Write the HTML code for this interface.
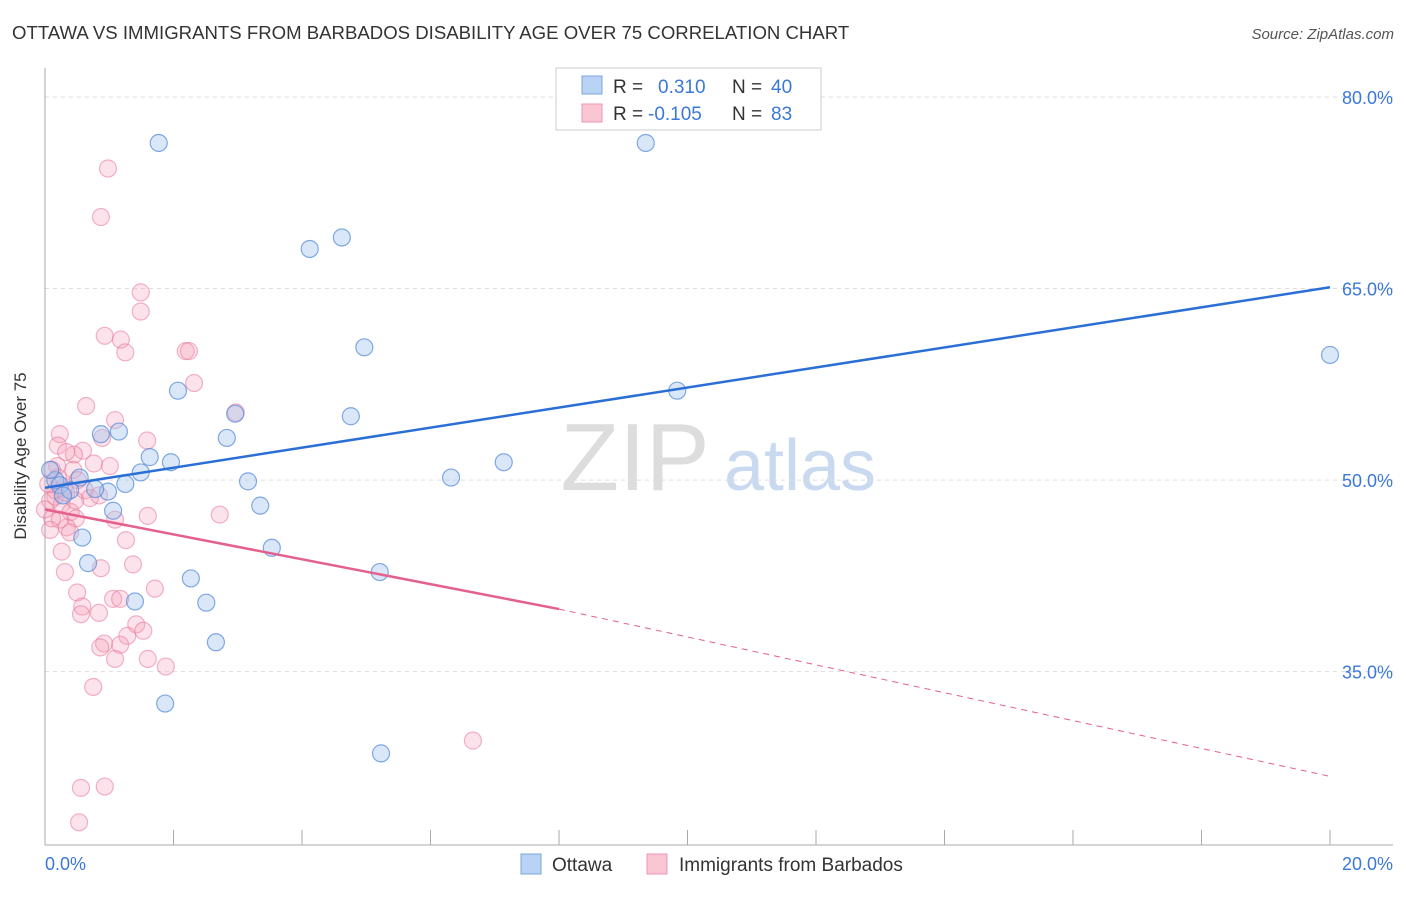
<!DOCTYPE html>
<html><head><meta charset="utf-8"><style>
body{margin:0;background:#fff;font-family:"Liberation Sans",sans-serif}
svg text{font-family:"Liberation Sans",sans-serif}
</style></head><body>
<svg id="chart" width="1406" height="892">
<text x="12" y="39" font-size="18.6" fill="#333">OTTAWA VS IMMIGRANTS FROM BARBADOS DISABILITY AGE OVER 75 CORRELATION CHART</text>
<text x="1394" y="39" font-size="15" fill="#555" text-anchor="end" font-style="italic">Source: ZipAtlas.com</text>
<text x="635" y="490" font-size="96" fill="#ddd" font-family="Liberation Serif" text-anchor="middle">ZIP</text>
<text x="800" y="490" font-size="72" fill="#c9daf0" text-anchor="middle">atlas</text>
<g id="grid"></g><g id="axes"></g><g id="pts"></g><g id="lines"></g>
<text x="26" y="456" font-size="17" fill="#333" text-anchor="middle" transform="rotate(-90 26 456)">Disability Age Over 75</text>
<g>
<rect x="556" y="68" width="265" height="62" fill="#fff" stroke="#ccc"/>
<rect x="582" y="76" width="20" height="18" fill="#b9d3f5" stroke="#7aa6e0"/>
<rect x="582" y="104" width="20" height="18" fill="#fbc6d4" stroke="#eb97b0"/>
<text x="613" y="93" font-size="19" fill="#333">R =</text><text x="658" y="93" font-size="19" fill="#3b78d8">0.310</text>
<text x="732" y="93" font-size="19" fill="#333">N =</text><text x="771" y="93" font-size="19" fill="#3b78d8">40</text>
<text x="613" y="120" font-size="19" fill="#333">R =</text><text x="648" y="120" font-size="19" fill="#3b78d8">-0.105</text>
<text x="732" y="120" font-size="19" fill="#333">N =</text><text x="771" y="120" font-size="19" fill="#3b78d8">83</text>
</g>
<g>
<rect x="521" y="854" width="20" height="20" fill="#b9d3f5" stroke="#7aa6e0"/>
<text x="552" y="871" font-size="19" fill="#333">Ottawa</text>
<rect x="647" y="854" width="20" height="20" fill="#fbc6d4" stroke="#eb97b0"/>
<text x="679" y="871" font-size="19" fill="#333">Immigrants from Barbados</text>
</g>
</svg>
<script>
const yTicks=[80,65,50,35];
const yTickLabels=["80.0%","65.0%","50.0%","35.0%"];
const ottawaX=[1.77,9.35,4.12,4.62,4.97,20.0,9.84,2.07,4.76,2.96,2.83,0.87,1.15,1.63,1.96,1.49,7.14,6.32,1.25,0.98,3.16,3.35,1.06,0.58,3.53,0.67,5.21,2.27,2.51,1.40,2.66,1.87,5.23,0.16,0.23,0.39,0.78,0.08,0.28,0.54];
const ottawaY=[76.4,76.4,68.1,69.0,60.4,59.8,57.0,57.0,55.0,55.2,53.3,53.6,53.8,51.8,51.4,50.6,51.4,50.2,49.7,49.1,49.9,48.0,47.6,45.5,44.7,43.5,42.8,42.3,40.4,40.5,37.3,32.5,28.6,50.0,49.6,49.2,49.3,50.8,48.8,50.2];
const barbX=[0.98,0.87,1.49,1.49,0.93,1.18,1.25,2.19,2.24,2.32,2.97,0.64,1.09,1.59,0.23,0.20,0.89,0.59,0.45,0.33,1.01,0.76,0.44,0.19,0.51,0.30,0.62,0.16,0.26,0.70,0.84,0.40,0.11,0.48,0.34,1.09,0.39,0.26,1.26,2.72,1.60,0.31,0.87,1.37,1.71,0.50,0.58,0.84,0.56,1.06,1.17,1.42,1.53,1.28,0.92,0.86,1.17,1.09,1.60,1.88,0.75,6.66,0.56,0.93,0.53,0.11,0.16,0.08,0.20,0.05,0.33,0.47,0.23,0,0.08];
const barbY=[74.4,70.6,64.7,63.2,61.3,61.0,60.0,60.1,60.1,57.6,55.3,55.8,54.7,53.1,53.6,52.7,53.3,52.3,52.0,52.2,51.1,51.3,50.8,51.1,50.0,49.5,49.2,48.7,48.1,48.6,48.8,47.5,47.0,47.0,46.3,46.9,45.9,44.4,45.3,47.3,47.2,42.8,43.1,43.4,41.5,41.2,40.1,39.6,39.5,40.7,40.7,38.7,38.2,37.8,37.2,36.9,37.1,36.0,36.0,35.4,33.8,29.6,25.9,26.0,23.2,50.8,49.2,48.4,50.2,49.7,49.0,48.4,46.9,47.7,46.1];
const blueTrend=[49.4,65.1];
const pinkTrend=[47.7,39.9,26.8];
const NS="http://www.w3.org/2000/svg";
const X=v=>45+v*64.25, Y=v=>97+(80-v)*12.77;
function mk(p,t,a){const e=document.createElementNS(NS,t);for(const k in a)e.setAttribute(k,a[k]);p.appendChild(e);return e;}
const grid=document.getElementById('grid'),axes=document.getElementById('axes');
yTicks.forEach((t,i)=>{
 const l=mk(grid,'line',{x1:45,x2:1393,y1:Y(t),y2:Y(t),stroke:'#ddd','stroke-dasharray':'4 4'});
 
 
 const tx=mk(grid,'text',{x:1393,y:Y(t)+7,'font-size':18,fill:'#3b78d8','text-anchor':'end'});
 tx.textContent=yTickLabels[i];
 
 
});
const ya=mk(axes,'line',{x1:45,x2:45,y1:68,y2:845,stroke:'#aaa'});


const xa=mk(axes,'line',{x1:45,x2:1393,y1:845,y2:845,stroke:'#aaa'});


for(let i=1;i<=10;i++){const t=mk(axes,'line',{x1:X(i*2),x2:X(i*2),y1:830,y2:845,stroke:'#aaa'});
 
 }
[["0.0%",45,'start'],["20.0%",1393,'end']].forEach(a=>{const t=mk(axes,'text',{x:a[1],y:870,'font-size':18,fill:'#3b78d8','text-anchor':a[2]});t.textContent=a[0];
 
 });
const pts=document.getElementById('pts');
barbX.forEach((v,i)=>{const c=mk(pts,'circle',{cx:X(v),cy:Y(barbY[i]),r:8.5,fill:'rgba(246,160,185,0.3)',stroke:'rgba(232,120,155,0.55)','stroke-width':1.2});
 
 });
ottawaX.forEach((v,i)=>{const c=mk(pts,'circle',{cx:X(v),cy:Y(ottawaY[i]),r:8.5,fill:'rgba(160,195,240,0.4)',stroke:'rgba(80,135,215,0.7)','stroke-width':1.2});
 
 });
const lines=document.getElementById('lines');
const bl=mk(lines,'line',{x1:X(0),y1:Y(blueTrend[0]),x2:X(20),y2:Y(blueTrend[1]),stroke:'#2b6fd6','stroke-width':2.5});


const pl=mk(lines,'line',{x1:X(0),y1:Y(pinkTrend[0]),x2:X(8),y2:Y(pinkTrend[1]),stroke:'#e4608e','stroke-width':2.5});


const pd=mk(lines,'line',{x1:X(8),y1:Y(pinkTrend[1]),x2:X(20),y2:Y(pinkTrend[2]),stroke:'#e4608e','stroke-width':1,'stroke-dasharray':'6 5'});


</script>
</body></html>
